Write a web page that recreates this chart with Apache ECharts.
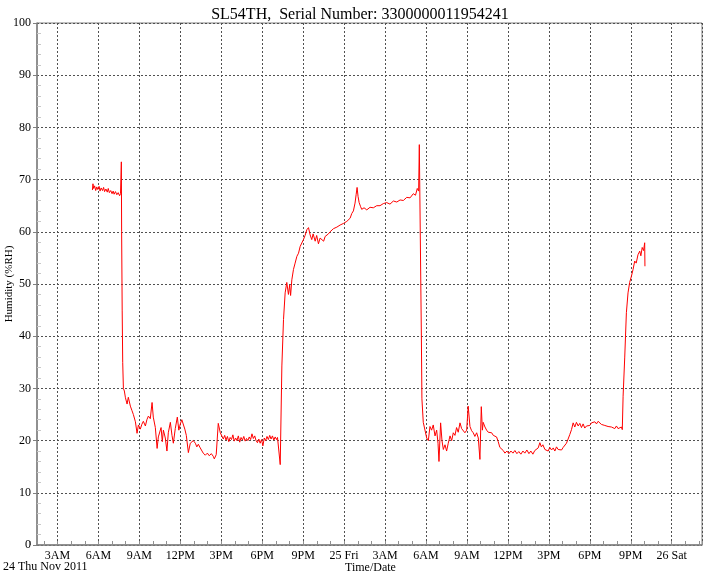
<!DOCTYPE html>
<html><head><meta charset="utf-8">
<script src="https://cdn.jsdelivr.net/npm/echarts@6/dist/echarts.min.js"></script>
<style>html,body{margin:0;padding:0;background:#fff}#c{width:720px;height:576px}</style>
</head><body><div id="c"></div>
<script>
// hours since 24 Nov 2011 00:00
const hours = [
5.56,5.60,5.65,5.72,5.80,5.88,5.95,6.05,6.12,6.20,6.30,6.38,6.45,6.55,6.65,6.72,6.80,6.90,7.00,7.08,7.15,7.25,7.35,7.45,7.55,7.62,7.66,7.68,
7.70,7.74,7.78,7.83,7.90,7.98,
8.10,8.19,8.34,8.45,8.56,8.71,8.83,8.93,9.07,9.18,9.29,9.44,9.55,9.66,9.80,9.93,10.02,10.17,10.30,10.39,10.59,10.68,10.76,10.90,11.02,11.12,11.27,11.39,11.49,11.63,11.78,11.89,12.00,12.11,12.22,12.33,12.44,12.59,12.73,12.86,12.95,13.10,13.21,13.32,13.46,13.59,13.68,13.83,13.98,14.12,14.27,14.41,14.49,14.63,14.78,14.93,15.05,
15.15,15.25,15.35,15.45,15.55,15.65,15.75,15.85,15.95,16.05,16.15,16.25,16.35,16.45,16.55,16.65,16.75,16.85,16.95,17.05,17.15,17.25,17.35,17.45,17.55,17.65,17.75,17.85,17.95,18.05,18.15,18.25,18.35,18.45,18.55,18.65,18.75,18.85,18.95,19.05,19.12,19.19,19.32,
19.44,19.56,19.68,19.80,19.92,20.01,20.08,20.17,20.29,20.41,20.54,20.66,20.78,20.90,21.02,21.14,21.27,21.39,21.51,21.63,21.73,21.88,21.99,22.12,22.24,22.37,22.50,22.61,22.73,22.85,22.97,23.10,23.22,23.34,23.47,23.58,23.71,23.83,23.95,24.07,24.20,24.31,24.44,24.56,24.68,24.80,24.88,24.95,25.02,25.10,25.21,25.29,25.46,25.66,25.90,26.14,26.39,26.63,26.87,27.12,27.36,27.61,27.86,28.10,28.34,28.59,28.83,29.07,29.23,29.36,29.46,29.51,
29.61,29.66,29.70,29.80,30.05,30.17,30.29,30.41,30.53,30.66,30.78,30.88,30.95,31.07,31.17,31.27,31.39,31.51,31.63,31.76,31.88,32.00,32.12,32.24,32.36,32.49,32.61,32.73,32.85,32.98,33.09,33.22,33.34,33.46,33.58,33.71,33.83,33.95,34.05,34.13,34.19,34.32,34.44,34.56,34.68,34.81,34.93,35.05,35.17,35.29,35.41,35.54,35.66,35.78,35.93,36.07,36.22,36.37,36.51,36.66,36.80,36.95,37.10,37.24,37.39,37.54,37.68,37.83,37.97,38.10,38.22,38.34,38.45,38.56,38.71,38.83,38.95,39.07,39.20,39.32,39.44,39.56,39.68,39.80,39.93,40.05,40.17,40.29,40.41,40.54,40.66,40.78,40.90,41.02,41.15,41.27,41.39,41.51,41.63,41.76,41.88,42.00,42.12,42.24,42.37,42.49,42.61,42.73,42.85,42.97,43.10,43.22,43.34,43.46,43.59,43.71,43.83,43.95,44.07,44.20,44.32,44.38,
44.44,44.56,44.68,44.80,44.92,45.05,45.17,45.29,45.40,45.53,45.66,45.74,45.84,45.94,46.02,46.04
];
const humidity = [
68.0,69.2,68.3,68.8,67.9,68.6,68.1,68.7,67.8,68.4,67.9,68.5,67.7,68.2,67.6,68.3,67.5,67.9,67.3,67.8,67.2,67.7,67.1,67.5,66.9,67.3,67.0,73.4,
60.0,45.0,35.0,30.0,29.5,28.2,
27.0,28.3,26.6,25.8,25.0,23.6,21.4,23.0,22.2,23.1,23.7,22.8,24.0,24.7,24.2,27.3,24.5,22.5,18.5,20.7,22.5,19.8,22.0,20.5,18.0,21.5,23.5,21.0,19.5,22.3,24.5,22.0,23.2,24.0,23.8,22.2,21.0,17.7,19.5,19.3,20.0,19.5,18.8,19.3,18.6,18.0,17.6,17.2,17.6,17.1,17.5,17.0,16.5,17.3,23.3,21.5,21.3,
20.3,21.0,20.1,20.8,19.8,20.6,20.2,21.1,19.9,20.5,20.0,20.9,19.7,20.6,20.1,20.8,19.9,20.4,20.0,20.7,20.2,21.3,20.4,20.9,20.0,19.6,20.3,19.5,20.2,19.0,20.5,20.0,20.8,20.2,21.0,20.3,20.9,20.1,20.7,20.2,20.6,20.6,15.4,
34.3,43.2,48.3,50.3,48.0,49.8,47.8,50.8,52.8,54.0,55.3,55.9,57.2,57.0,58.5,59.3,60.4,60.8,59.4,58.5,59.6,58.2,59.3,57.7,58.8,58.7,58.2,59.1,58.9,59.6,60.0,59.7,60.6,60.3,60.9,61.0,61.3,61.1,61.6,61.4,62.0,62.0,62.6,63.5,64.0,65.5,67.1,68.5,66.8,65.6,64.8,64.3,64.6,64.2,64.7,64.6,65.0,65.0,65.4,65.6,65.3,65.9,65.7,66.1,66.0,66.6,66.5,67.3,67.0,68.3,67.8,76.7,
52.3,40.0,28.0,23.5,20.5,20.0,22.7,22.0,23.0,20.9,22.0,19.5,16.0,23.4,20.0,18.3,19.2,18.0,19.5,20.9,20.0,21.5,21.0,22.5,21.6,23.4,22.3,22.0,21.5,22.0,26.6,22.7,21.9,21.5,20.8,21.5,20.5,16.4,26.5,22.0,23.5,22.6,22.0,21.6,21.3,21.5,21.0,20.9,20.7,19.8,18.7,18.4,18.1,17.6,18.0,17.5,18.0,17.6,18.1,17.5,17.9,17.4,18.0,17.6,18.2,17.5,18.0,17.4,18.1,17.8,18.6,19.6,18.8,19.2,18.3,18.6,18.0,18.7,18.2,18.6,18.0,18.8,18.3,18.6,18.2,18.7,18.9,19.5,20.3,21.2,22.1,23.4,22.6,23.5,22.8,23.3,22.5,23.2,22.4,22.8,23.1,22.9,23.4,23.3,23.6,23.2,23.7,23.6,23.1,23.4,22.9,23.0,22.7,22.9,22.6,22.6,22.3,22.8,22.3,22.3,22.6,22.1,
28.5,36.0,44.5,48.3,50.3,51.5,52.8,54.4,54.0,55.6,56.3,55.4,57.0,56.4,57.9,53.4
];
// x tick labels, one per 3 hours starting at 24 Nov 00:00
const xTickLabels = ['', '3AM','6AM','9AM','12PM','3PM','6PM','9PM','25 Fri','3AM','6AM','9AM','12PM','3PM','6PM','9PM','26 Sat'];
const titleText = 'SL54TH,  Serial Number: 3300000011954241';

const FONT = 'Liberation Serif';
const X_MIN = 1.5, X_MAX = 50.22;
const series = hours.map((h, i) => [h, humidity[i]]);
const chart = echarts.init(document.getElementById('c'), null, {renderer: 'canvas'});
const PX_PER_H = 665 / (X_MAX - X_MIN);
chart.setOption({
  animation: false,
  backgroundColor: '#fff',
  title: {text: titleText, left: 'center', top: 2, textStyle: {fontFamily: FONT, fontWeight: 'normal', fontSize: 16, color: '#000'}},
  grid: [
    {left: 37, right: 18, top: 23, bottom: 31, show: true, borderColor: '#808080', borderWidth: 1, outerBoundsMode: 'none', containLabel: false},
    {left: 37 - 0.5 * PX_PER_H, right: 18, top: 23, bottom: 31, show: false, outerBoundsMode: 'none', containLabel: false}
  ],
  graphic: [
    {type: 'text', left: 3, top: 561, style: {text: '24 Thu Nov 2011', font: '12px "Liberation Serif"', fill: '#000'}},
    {type: 'text', left: 345, top: 562, style: {text: 'Time/Date', font: '12px "Liberation Serif"', fill: '#000'}}
  ],
  xAxis: [{
    type: 'value', min: X_MIN, max: X_MAX, interval: 1.5, gridIndex: 0,
    axisLine: {show: true, lineStyle: {color: '#808080', width: 1.5}},
    axisTick: {show: false},
    splitLine: {show: true, lineStyle: {color: ['rgba(0,0,0,0)', '#505050'], type: [2, 2], width: 1}},
    axisLabel: {
      fontFamily: FONT, fontSize: 12, color: '#000', margin: 5,
      formatter: v => {
        const r = Math.round(v);
        if (Math.abs(v - r) > 0.01 || r % 3 !== 0) return '';
        return xTickLabels[r / 3] || '';
      }
    }
  }, {
    type: 'value', min: 1, max: X_MAX, interval: 1, gridIndex: 1,
    axisLine: {show: false}, axisLabel: {show: false}, splitLine: {show: false},
    axisTick: {show: true, inside: true, length: 4, lineStyle: {color: '#909090'}}
  }],
  yAxis: [{
    type: 'value', min: 0, max: 100, interval: 10, gridIndex: 0,
    name: 'Humidity (%RH)', nameLocation: 'middle', nameGap: 22, nameRotate: 90, nameMoveOverlap: false,
    nameTextStyle: {fontFamily: FONT, fontSize: 11, color: '#000'},
    axisLine: {show: true, lineStyle: {color: '#808080', width: 1.5}},
    axisTick: {show: true, inside: false, length: 4, lineStyle: {color: '#808080'}},
    splitLine: {show: true, lineStyle: {color: '#505050', type: [2, 2], width: 1}},
    axisLabel: {fontFamily: FONT, fontSize: 12, color: '#000', margin: 6}
  }, {
    type: 'value', min: 0, max: 100, interval: 10, position: 'left', gridIndex: 0,
    axisLine: {show: false}, axisLabel: {show: false}, splitLine: {show: false},
    axisTick: {show: false, inside: true},
    minorTick: {show: true, splitNumber: 5, length: 4, lineStyle: {color: '#c8c8c8'}}
  }, {
    type: 'value', min: 0, max: 100, gridIndex: 1, show: false
  }],
  series: [{
    type: 'line', data: series, showSymbol: false, symbol: 'none', xAxisIndex: 0, yAxisIndex: 0,
    lineStyle: {color: '#ff0000', width: 1}, itemStyle: {color: '#ff0000'}
  }]
});
</script></body></html>
